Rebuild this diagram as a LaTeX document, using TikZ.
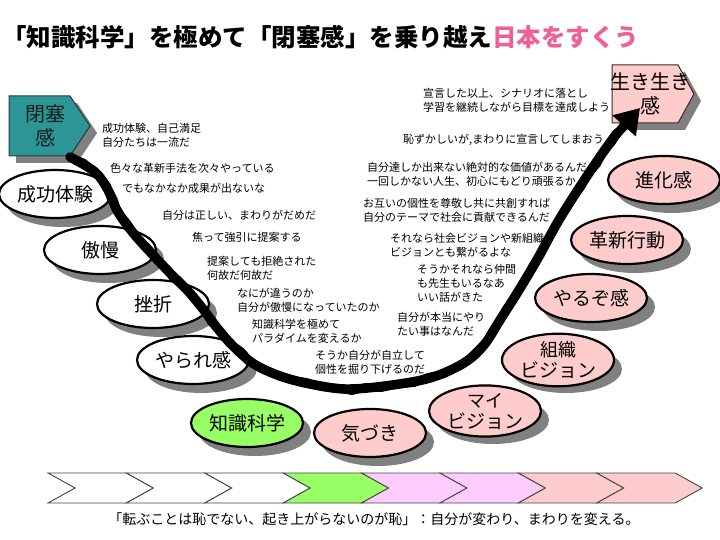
\documentclass[tikz,border=0pt]{standalone}
\usepackage{fontspec}
\setmainfont{Noto Sans CJK JP}
\usetikzlibrary{shapes.geometric,arrows.meta}
\definecolor{teal1}{RGB}{44,150,150}
\definecolor{pinkf}{RGB}{255,204,204}
\definecolor{violf}{RGB}{255,204,255}
\definecolor{greenf}{RGB}{153,255,102}
\definecolor{titlepink}{RGB}{238,96,150}
\tikzset{
  ell/.style={ellipse, draw=black, line width=2.2pt, minimum width=112pt, minimum height=48pt,
    inner sep=0pt, align=center, font=\fontsize{19}{21}\selectfont},
  shadowfill/.style={fill=black!50},
  note/.style={font=\fontsize{11}{14}\selectfont, align=left, inner sep=0pt, anchor=west},
  chev/.style={draw={rgb,255:red,70;green,70;blue,70}, line width=0.9pt},
  boxtxt/.style={font=\fontsize{20}{24}\selectfont, align=center, inner sep=0pt},
}
% name, fill, x, y, text
\newcommand{\myell}[5]{%
  \path[shadowfill] (#3,#4) ++(8,9) ellipse [x radius=56pt, y radius=24pt];
  \node[ell, fill=#2] (#1) at (#3,#4) {#5};
}
\begin{document}
\begin{tikzpicture}[x=1pt,y=-1pt]
\useasboundingbox (0,0) rectangle (720,540);
\fill[white] (0,0) rectangle (720,540);

% title
\node[anchor=west, inner sep=0pt, font=\fontsize{24.5}{28}\selectfont\bfseries] (title) at (2,37)
  {「知識科学」を極めて「閉塞感」を乗り越え\textcolor{titlepink}{日本をすくう}};

% ellipses
\myell{e1}{white}{55}{194}{成功体験}
\myell{e2}{white}{100}{250}{傲慢}
\myell{e3}{white}{153}{304}{挫折}
\myell{e4}{white}{193}{360}{やられ感}
\myell{e5}{greenf}{247}{423}{知識科学}
\myell{e6}{pinkf}{370}{433}{気づき}
\myell{e7}{pinkf}{485}{411}{\fontsize{18}{21}\selectfont マイ\\ビジョン}
\myell{e8}{pinkf}{558}{360}{\fontsize{18}{21}\selectfont 組織\\ビジョン}
\myell{e9}{pinkf}{591}{298}{やるぞ感}
\myell{e10}{pinkf}{627}{240}{革新行動}
\myell{e11}{pinkf}{664}{180}{進化感}

% pentagon boxes
\path[shadowfill] (16,103) -- (77,103) -- (97,133) -- (77,163) -- (16,163) -- cycle;
\draw[fill=teal1, draw={rgb,255:red,40;green,60;blue,60}, line width=1pt]
  (9,96) -- (70,96) -- (90,126) -- (70,156) -- (9,156) -- cycle;
\node[boxtxt, text={rgb,255:red,20;green,30;blue,30}] (heisoku) at (45,126) {閉塞\\感};

\path[shadowfill] (619,72) -- (685,72) -- (701,101) -- (685,130) -- (619,130) -- cycle;
\draw[fill=pinkf, draw={rgb,255:red,60;green,40;blue,40}, line width=1pt]
  (612,65) -- (678,65) -- (694,94) -- (678,123) -- (612,123) -- cycle;
\node[boxtxt] (ikiiki) at (650,94) {生き生き\\感};

% the thick curve
\coordinate (cstart) at (70,157);
\coordinate (cend) at (640,108);
\draw[line width=9.5pt, line join=round, line cap=round]
  plot[smooth, tension=0.55] coordinates {
   (cstart) (95,172) (108,190) (118,212) (134,234) (153,255) (170,273) (188,291)
   (203,309) (218,329) (234,347) (254,364) (280,376) (310,384) (345,389)
   (385,386) (430,378) (464,363) (484,345) (500,320) (519,290) (538,258)
   (556,225) (572,199) (589,173) (604,151) (617,133)};
% irregular edge of the hand-drawn stroke
\draw[line width=8pt, line join=round, line cap=round]
  (cstart) -- (84,163) -- (99,176) -- (107,186) -- (111,199) -- (119,214) -- (127,223)
  -- (137,238) -- (147,247) -- (156,259) -- (166,268) -- (173,278) -- (186,288)
  -- (194,299) -- (205,310) -- (211,322) -- (220,331) -- (229,343) -- (238,350)
  -- (248,361) -- (262,369) -- (275,374) -- (291,380) -- (306,382) -- (322,387)
  -- (337,388) -- (352,391) -- (366,387) -- (381,388) -- (398,384) -- (414,383)
  -- (428,377) -- (444,374) -- (458,366) -- (469,359) -- (478,350) -- (487,341)
  -- (493,330) -- (500,321) -- (506,309) -- (514,299) -- (520,288) -- (528,276)
  -- (533,265) -- (541,254) -- (546,242) -- (553,232) -- (559,220) -- (566,209)
  -- (572,199) -- (581,187) -- (588,174) -- (597,164) -- (603,152) -- (612,142) -- (617,133);
\draw[line width=9pt, -{Triangle[length=24pt,width=30pt]}] (615,136) -- (cend);

% notes
\node[note] (t1) at (102,135.5) {成功体験、自己満足\\自分たちは一流だ};
\node[note] (t2) at (110,168) {色々な革新手法を次々やっている};
\node[note] (t3) at (122,188) {でもなかなか成果が出ないな};
\node[note] (t4) at (162,215) {自分は正しい、まわりがだめだ};
\node[note] (t5) at (192,237) {焦って強引に提案する};
\node[note] (t6) at (207,268) {提案しても拒絶された\\何故だ何故だ};
\node[note] (t7) at (237,300) {なにが違うのか\\自分が傲慢になっていたのか};
\node[note] (t8) at (252,331.5) {知識科学を極めて\\パラダイムを変えるか};
\node[note] (t9) at (315,362.5) {そうか自分が自立して\\個性を掘り下げるのだ};
\node[note] (t10) at (397,324) {自分が本当にやり\\たい事はなんだ};
\node[note] (t11) at (417,283.5) {そうかそれなら仲間\\も先生もいるなあ\\いい話がきた};
\node[note] (t12) at (390,245) {それなら社会ビジョンや新組織\\ビジョンとも繋がるよな};
\node[note] (t13) at (363,210.5) {お互いの個性を尊敬し共に共創すれば\\自分のテーマで社会に貢献できるんだ};
\node[note] (t14) at (367,174) {自分達しか出来ない絶対的な価値があるんだ\\一回しかない人生、初心にもどり頑張るか};
\node[note] (t15) at (403,140) {恥ずかしいが,まわりに宣言してしまおう};
\node[note] (t16) at (423,100.5) {宣言した以上、シナリオに落とし\\学習を継続しながら目標を達成しよう};

% chevron bar
\foreach \i/\c in {0/white,1/white,2/white,3/greenf,4/violf,5/violf,6/pinkf,7/pinkf}{
  \pgfmathsetmacro{\xa}{48+78.4*\i}
  \pgfmathsetmacro{\xb}{48+78.4*(\i+1)}
  \draw[chev, fill=\c] (\xa,473) -- (\xb,473) -- (\xb+27,488) -- (\xb,503) -- (\xa,503) -- (\xa+27,488) -- cycle;
}

% caption
\node[inner sep=0pt, font=\fontsize{14}{16}\selectfont] (caption) at (374,519)
  {「転ぶことは恥でない、起き上がらないのが恥」：自分が変わり、まわりを変える。};
\end{tikzpicture}
\end{document}
